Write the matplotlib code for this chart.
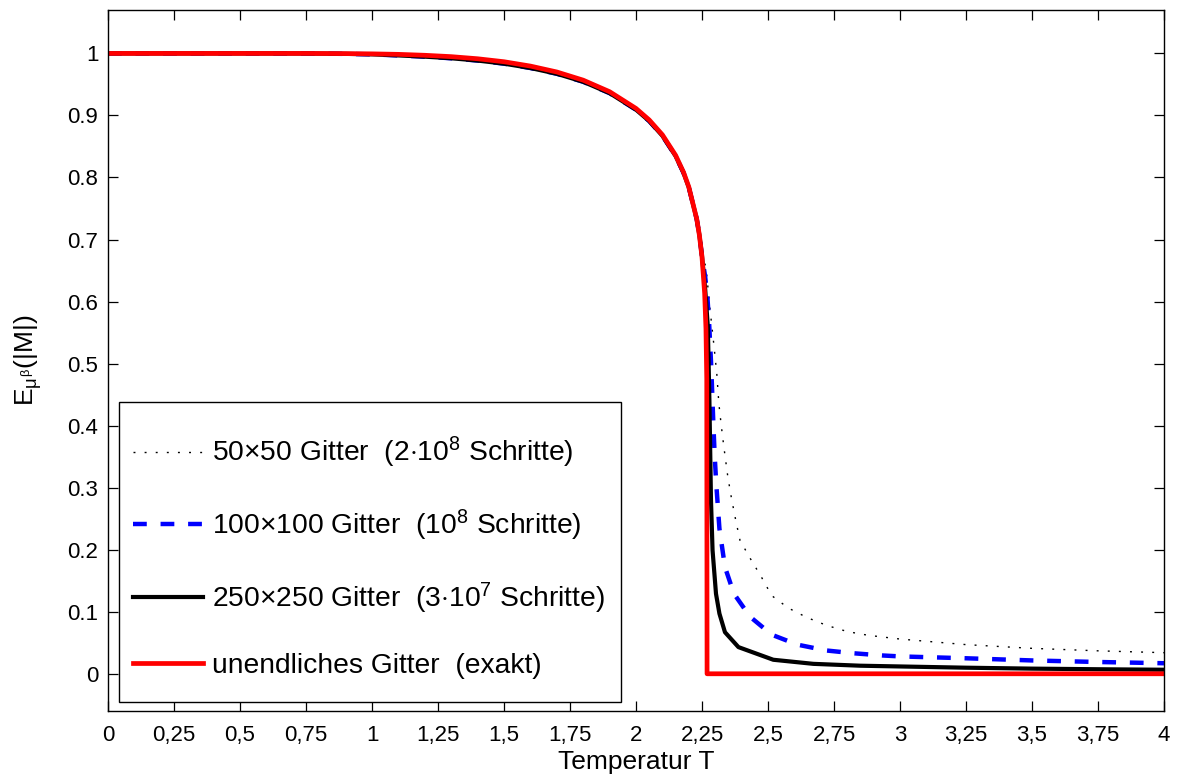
import matplotlib
matplotlib.use("Agg")
import matplotlib.pyplot as plt
from matplotlib.patches import Rectangle

# ---------------- data ----------------
T_low = [0.0, 0.25, 0.5, 0.75, 0.8, 0.9, 1.0, 1.1, 1.2, 1.3, 1.4, 1.5, 1.6, 1.7,
         1.8, 1.9, 2.0, 2.05, 2.1, 2.15, 2.18, 2.2, 2.23, 2.24, 2.25]
M_low = [1.0, 1.0, 1.0, 1.0, 0.9999, 0.9997, 0.9993, 0.9985, 0.9970, 0.9948,
         0.9914, 0.9866, 0.9796, 0.9701, 0.9569, 0.9383, 0.9113, 0.8928, 0.8688,
         0.8358, 0.8085, 0.7848, 0.7332, 0.7073, 0.6719]

# finite lattices sit marginally below the exact curve before Tc
M_low_fin = [1.0, 1.0, 1.0, 0.9999, 0.9997, 0.9993, 0.9985, 0.9968, 0.9948, 0.9922,
             0.9885, 0.9835, 0.9765, 0.9672, 0.9543, 0.9360, 0.9093, 0.8910, 0.8672,
             0.8345, 0.8075, 0.7840, 0.7330, 0.7075, 0.6730]

# exact (infinite lattice)
T_exact = T_low + [2.26, 2.265, 2.268, 2.2692, 4.0]
M_exact = M_low + [0.6134, 0.5563, 0.4754, 0.0, 0.0]

# 50x50 lattice
T_50 = T_low + [2.265, 2.28, 2.293, 2.306, 2.314, 2.323, 2.333, 2.348, 2.362,
                2.378, 2.394, 2.434, 2.475, 2.514, 2.577, 2.646, 2.722, 2.801,
                2.88, 2.96, 3.0, 3.25, 3.5, 3.75, 4.0]
M_50 = M_low_fin + [0.656, 0.589, 0.538, 0.484, 0.435, 0.400, 0.365, 0.317, 0.282,
                    0.247, 0.215, 0.185, 0.156, 0.126, 0.106, 0.091, 0.078, 0.068,
                    0.062, 0.058, 0.056, 0.047, 0.041, 0.037, 0.034]

# 100x100 lattice
T_100 = T_low + [2.262, 2.27, 2.277, 2.285, 2.293, 2.298, 2.304, 2.316, 2.337,
                 2.371, 2.432, 2.514, 2.611, 2.72, 2.826, 2.934, 3.0, 3.25,
                 3.5, 3.75, 4.0]
M_100 = M_low_fin + [0.640, 0.610, 0.565, 0.495, 0.403, 0.352, 0.306, 0.234, 0.172,
                     0.129, 0.092, 0.063, 0.047, 0.0376, 0.033, 0.0295, 0.028,
                     0.025, 0.0215, 0.019, 0.017]

# 250x250 lattice
T_250 = T_low + [2.262, 2.272, 2.278, 2.284, 2.29, 2.303, 2.316, 2.337, 2.388,
                 2.52, 2.672, 2.85, 3.0, 3.25, 3.5, 3.75, 4.0]
M_250 = M_low_fin + [0.620, 0.560, 0.441, 0.280, 0.199, 0.129, 0.097, 0.067, 0.043,
                     0.0226, 0.016, 0.013, 0.0118, 0.0098, 0.0083, 0.0073, 0.0065]

labels = [r"50$\times$50 Gitter  (2$\cdot$10$^{8}$ Schritte)",
          r"100$\times$100 Gitter  (10$^{8}$ Schritte)",
          r"250$\times$250 Gitter  (3$\cdot$10$^{7}$ Schritte)",
          "unendliches Gitter  (exakt)"]

xticks = [0, 0.25, 0.5, 0.75, 1, 1.25, 1.5, 1.75, 2, 2.25, 2.5, 2.75, 3, 3.25, 3.5, 3.75, 4]
xticklabels = ["0", "0,25", "0,5", "0,75", "1", "1,25", "1,5", "1,75", "2", "2,25",
               "2,5", "2,75", "3", "3,25", "3,5", "3,75", "4"]
yticks = [0, 0.1, 0.2, 0.3, 0.4, 0.5, 0.6, 0.7, 0.8, 0.9, 1.0]
yticklabels = ["0", "0.1", "0.2", "0.3", "0.4", "0.5", "0.6", "0.7", "0.8", "0.9", "1"]

# ---------------- plot ----------------
plt.rcParams['font.family'] = ['Liberation Sans', 'DejaVu Sans']
plt.rcParams['mathtext.fontset'] = 'custom'
plt.rcParams['mathtext.rm'] = 'Liberation Sans'
plt.rcParams['mathtext.it'] = 'Liberation Sans'
plt.rcParams['mathtext.bf'] = 'Liberation Sans'
plt.rcParams['mathtext.sf'] = 'Liberation Sans'

W, H = 1190, 782
fig = plt.figure(figsize=(W / 100, H / 100), dpi=100)
ax = fig.add_axes([108 / W, (H - 711) / H, (1164 - 108) / W, (711 - 10) / H])

ax.plot(T_50, M_50, color='black', lw=1.0, linestyle=(0, (1.4, 6.6)), label=labels[0])
ax.plot(T_100, M_100, color='#0000ff', lw=3.2, linestyle=(0, (3.1, 3.1)), label=labels[1])
ax.plot(T_250, M_250, color='black', lw=3.0, label=labels[2])
ax.plot(T_exact, M_exact, color='#ff0000', lw=3.4, label=labels[3])

ax.set_xlim(0, 4)
ax.set_ylim(-0.06, 1.07)
ax.set_xticks(xticks)
ax.set_xticklabels(xticklabels, fontsize=16)
ax.set_yticks(yticks)
ax.set_yticklabels(yticklabels, fontsize=16)
ax.tick_params(direction='in', length=7, width=0.9, top=True, right=True)
ax.tick_params(axis='x', pad=10)
ax.tick_params(axis='y', pad=7)
for s in ax.spines.values():
    s.set_linewidth(1.0)

ax.set_xlabel("Temperatur T", fontsize=19, labelpad=3)
ax.set_ylabel(r"E$_{\mu^{\beta}}$(|M|)", fontsize=19, labelpad=17)

# legend frame (drawn as its own box) and legend entries
def ax_x(px):
    return (px - 108) / (1164 - 108)

def ax_y(py):
    return (711 - py) / (711 - 10)

box = Rectangle((ax_x(119), ax_y(702)), ax_x(621) - ax_x(119), ax_y(402) - ax_y(702),
                transform=ax.transAxes, facecolor='white', edgecolor='black',
                lw=1.0, zorder=4)
ax.add_patch(box)

leg = ax.legend(loc='upper left', bbox_to_anchor=(ax_x(133), ax_y(435)), borderaxespad=0,
                borderpad=0, fontsize=20.3, frameon=False,
                handlelength=2.5, handletextpad=0.3, labelspacing=1.33)
leg.set_zorder(5)

fig.savefig("out.png", dpi=100)
